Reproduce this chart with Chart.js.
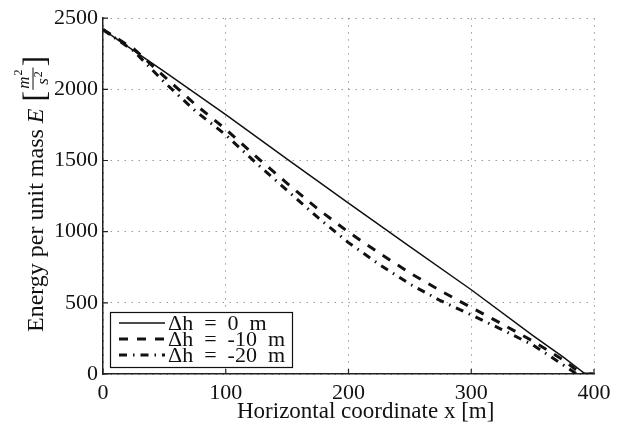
<!DOCTYPE html>
<html>
<head>
<meta charset="utf-8">
<script src="https://cdn.jsdelivr.net/npm/chart.js@4/dist/chart.umd.min.js"></script>
<style>
    body { margin: 0; background: #fff; }
    #wrap { width: 622px; height: 430px; }
</style>
</head>
<body>
<div id="wrap"><canvas id="energyChart" width="622" height="430"></canvas></div>
<script>
// --- DATA ---
const xTicks = [0, 100, 200, 300, 400];
const yTicks = [0, 500, 1000, 1500, 2000, 2500];

const legendLabels = ['\u0394h\u2002=\u20020\u2002m', '\u0394h\u2002=\u2002-10\u2002m', '\u0394h\u2002=\u2002-20\u2002m'];

const solidX = [0, 50, 100, 150, 200, 250, 300, 350, 375, 393, 400];
const solidE = [2420, 2125, 1823, 1510, 1200, 895, 592, 272, 118, 0, 0];

const dash10X = [0, 25, 50, 75, 100, 125, 150, 175, 200, 225, 250, 275, 300, 325, 350, 375, 390, 400];
const dash10E = [2420, 2285, 2090, 1895, 1720, 1525, 1340, 1160, 997, 850, 710, 585, 467, 352, 232, 98, 0, 0];

const dash20X = [0, 25, 50, 75, 100, 125, 150, 175, 200, 225, 250, 275, 300, 325, 350, 370, 386, 400];
const dash20E = [2420, 2270, 2050, 1850, 1680, 1480, 1290, 1100, 923, 770, 632, 515, 415, 312, 205, 92, 0, 0];

const SERIF = '"Liberation Serif", "DejaVu Serif", serif';

function toPoints(xs, ys) {
    return xs.map((x, i) => ({ x: x, y: ys[i] }));
}

// inner ticks, axis titles and the boxed legend (MATLAB look)
const decorPlugin = {
    id: 'decor',
    afterDraw(chart) {
        const ctx = chart.ctx;
        const area = chart.chartArea;
        const xs = chart.scales.x;
        const ys = chart.scales.y;

        ctx.save();
        ctx.strokeStyle = '#222';
        ctx.lineWidth = 1.2;
        ctx.beginPath();
        yTicks.forEach(v => {
            const py = ys.getPixelForValue(v);
            ctx.moveTo(area.left, py);
            ctx.lineTo(area.left + 5, py);
        });
        xTicks.forEach(v => {
            const px = xs.getPixelForValue(v);
            ctx.moveTo(px, area.bottom);
            ctx.lineTo(px, area.bottom - 5);
        });
        ctx.stroke();

        // x title
        ctx.fillStyle = '#111';
        ctx.font = '23px ' + SERIF;
        ctx.textBaseline = 'alphabetic';
        ctx.textAlign = 'left';
        ctx.fillText('Horizontal coordinate x [m]', 237, 418);

        // y title, rotated
        ctx.save();
        ctx.translate(43, 332);
        ctx.rotate(-Math.PI / 2);
        ctx.font = '24px ' + SERIF;
        const main = 'Energy per unit mass ';
        ctx.fillText(main, 0, 0);
        let cx = ctx.measureText(main).width;
        ctx.font = 'italic 24px ' + SERIF;
        ctx.fillText('E', cx, 0);
        cx += ctx.measureText('E').width + 7;
        ctx.font = '32px ' + SERIF;
        ctx.fillText('[', cx, 2);
        cx += ctx.measureText('[').width + 1;
        // fraction m^2 / s^2
        ctx.font = 'italic 17px ' + SERIF;
        ctx.fillText('m', cx + 1, -14);
        const mw = ctx.measureText('m').width;
        ctx.font = '12px ' + SERIF;
        ctx.fillText('2', cx + 1 + mw + 1, -21);
        const fracW = mw + 10;
        ctx.font = 'italic 17px ' + SERIF;
        ctx.fillText('s', cx + 5, 5);
        const sw = ctx.measureText('s').width;
        ctx.font = '12px ' + SERIF;
        ctx.fillText('2', cx + 5 + sw + 1, -1);
        ctx.lineWidth = 1;
        ctx.strokeStyle = '#111';
        ctx.beginPath();
        ctx.moveTo(cx, -10);
        ctx.lineTo(cx + fracW, -10);
        ctx.stroke();
        cx += fracW + 1;
        ctx.font = '32px ' + SERIF;
        ctx.fillText(']', cx, 2);
        ctx.restore();

        // legend box
        const bx = 110, by = 312, bw = 182, bh = 55;
        ctx.fillStyle = '#fff';
        ctx.fillRect(bx, by, bw, bh);
        ctx.strokeStyle = '#111';
        ctx.lineWidth = 1.2;
        ctx.strokeRect(bx + 0.5, by + 0.5, bw, bh);
        chart.data.datasets.forEach((ds, i) => {
            const rowY = 323 + i * 16;
            ctx.save();
            ctx.strokeStyle = ds.borderColor;
            ctx.lineWidth = ds.borderWidth;
            ctx.setLineDash(ds.borderDash || []);
            ctx.beginPath();
            ctx.moveTo(119, rowY);
            ctx.lineTo(165, rowY);
            ctx.stroke();
            ctx.restore();
            ctx.fillStyle = '#111';
            ctx.font = '22px ' + SERIF;
            ctx.textBaseline = 'middle';
            ctx.fillText(legendLabels[i], 168, rowY + 1);
        });
        ctx.restore();
    }
};

function initChart() {
    const ctx = document.getElementById('energyChart').getContext('2d');

    new Chart(ctx, {
        type: 'line',
        data: {
            datasets: [{
                label: legendLabels[0],
                data: toPoints(solidX, solidE),
                borderColor: '#111',
                borderWidth: 1.5,
                pointRadius: 0
            }, {
                label: legendLabels[1],
                data: toPoints(dash10X, dash10E),
                borderColor: '#111',
                borderWidth: 3,
                borderDash: [9, 9],
                pointRadius: 0
            }, {
                label: legendLabels[2],
                data: toPoints(dash20X, dash20E),
                borderColor: '#111',
                borderWidth: 3,
                borderDash: [8, 6, 1.5, 6],
                pointRadius: 0
            }]
        },
        options: {
            responsive: false,
            animation: false,
            layout: { padding: { left: 0, top: 16, right: 28, bottom: 0 } },
            plugins: {
                legend: { display: false },
                tooltip: { enabled: false }
            },
            scales: {
                x: {
                    type: 'linear',
                    min: 0,
                    max: 400,
                    afterFit: s => { s.height = 56; },
                    afterBuildTicks: s => { s.ticks = xTicks.map(v => ({ value: v })); },
                    grid: { color: '#999', lineWidth: 1, drawTicks: false },
                    border: { color: '#222', width: 1.5, dash: [1.5, 5.5] },
                    ticks: { color: '#111', padding: 6, font: { family: SERIF, size: 22 }, callback: v => String(v) }
                },
                y: {
                    min: 0,
                    max: 2500,
                    afterFit: s => { s.width = 103; },
                    afterBuildTicks: s => { s.ticks = yTicks.map(v => ({ value: v })); },
                    grid: { color: '#999', lineWidth: 1, drawTicks: false },
                    border: { color: '#222', width: 1.5, dash: [1.5, 5.5] },
                    ticks: { color: '#111', padding: 5, font: { family: SERIF, size: 22 }, callback: v => String(v) }
                }
            }
        },
        plugins: [decorPlugin]
    });
}

document.addEventListener('DOMContentLoaded', initChart);
</script>
</body>
</html>
